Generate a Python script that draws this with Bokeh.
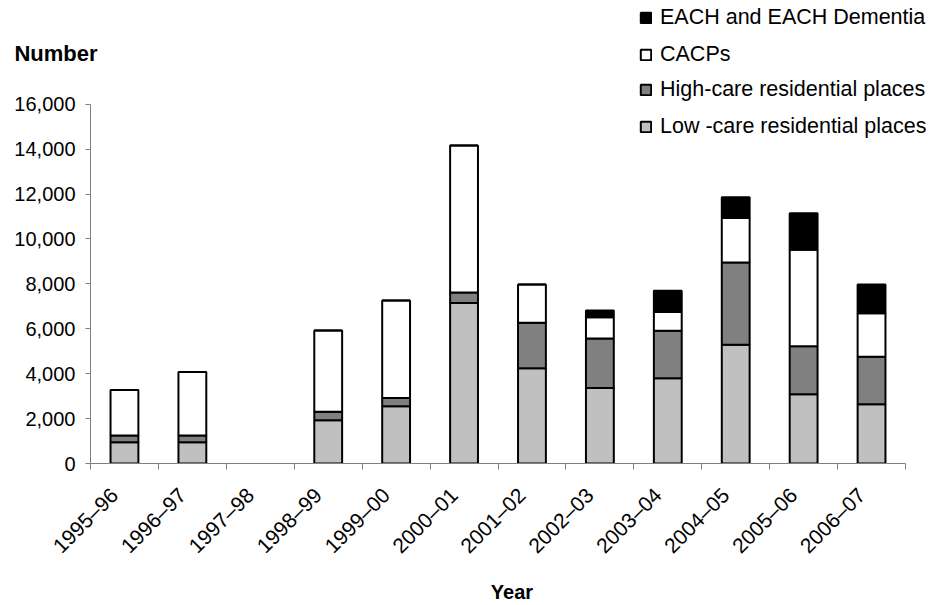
import math
from bokeh.plotting import figure
from bokeh.layouts import column
from bokeh.models import (Range1d, FixedTicker, NumeralTickFormatter, Legend, LegendItem,
                          ColumnDataSource)
from bokeh.embed import file_html
from bokeh.resources import INLINE

years = ["1995\u201396", "1996\u201397", "1997\u201398", "1998\u201399", "1999\u201300",
         "2000\u201301", "2001\u201302", "2002\u201303", "2003\u201304", "2004\u201305",
         "2005\u201306", "2006\u201307"]
low_care = [950, 950, 0, 1930, 2550, 7150, 4240, 3360, 3800, 5290, 3080, 2640]
high_care = [300, 300, 0, 380, 370, 470, 2030, 2210, 2110, 3660, 2140, 2120]
cacps = [2020, 2820, 0, 3610, 4340, 6540, 1700, 940, 840, 1980, 4300, 1930]
each = [0, 0, 0, 0, 0, 0, 0, 310, 950, 930, 1630, 1280]
series_names = ["Low -care residential places", "High-care residential places", "CACPs",
                "EACH and EACH Dementia"]
series_colors = ["#C0C0C0", "#808080", "#FFFFFF", "#000000"]
y_ticks = list(range(0, 16001, 2000))
y_title = "Number"
x_title = "Year"

FONT = "Liberation Sans"
W, H = 933, 605
TOP_H = 76            # strip above the main chart
LEFT, RIGHT_PAD, BOTTOM = 90, 28, 139
FRAME_TOP_PAD = 104 - TOP_H

n = len(years)
keep = [i for i in range(n) if low_care[i] + high_care[i] + cacps[i] + each[i] > 0]
src = ColumnDataSource(dict(
    x=[i + 0.5 for i in keep],
    low=[low_care[i] for i in keep],
    high=[high_care[i] for i in keep],
    cacp=[cacps[i] for i in keep],
    each=[each[i] for i in keep],
))
stack_cols = ["low", "high", "cacp", "each"]

# ---------------- main chart ----------------
main_h = H - TOP_H
frame_h = main_h - BOTTOM
frame_w = W - LEFT
y_end = y_ticks[-1] * frame_h / (frame_h - FRAME_TOP_PAD)
x_end = n * frame_w / (frame_w - RIGHT_PAD)

p = figure(width=W, height=main_h, x_range=Range1d(0, x_end), y_range=Range1d(0, y_end),
           output_backend="svg", toolbar_location=None,
           min_border_left=LEFT, min_border_top=0, min_border_right=0, min_border_bottom=BOTTOM)
p.outline_line_color = None
p.xgrid.visible = False
p.ygrid.visible = False

rs = p.vbar_stack(stack_cols, x="x", width=0.41, source=src,
                  fill_color=series_colors, line_color="black", line_width=2)

ya = p.yaxis[0]
ya.bounds = (y_ticks[0], y_ticks[-1])
ya.ticker = FixedTicker(ticks=y_ticks, minor_ticks=[])
ya.formatter = NumeralTickFormatter(format="0,0")
ya.major_tick_in = 0
ya.major_tick_out = 5
ya.minor_tick_in = 0
ya.minor_tick_out = 0
ya.axis_line_color = "#808080"
ya.major_tick_line_color = "#808080"
ya.major_label_text_font = FONT
ya.major_label_text_font_size = "20px"
ya.major_label_text_color = "black"
ya.major_label_standoff = 10

label_pos = [i + 0.35 for i in range(n)]
xa = p.xaxis[0]
xa.bounds = (0, n)
xa.ticker = FixedTicker(ticks=label_pos, minor_ticks=list(range(n + 1)))
xa.major_label_overrides = {x: y for x, y in zip(label_pos, years)}
xa.major_tick_in = 0
xa.major_tick_out = 0
xa.minor_tick_in = 0
xa.minor_tick_out = 6
xa.axis_line_color = "#808080"
xa.minor_tick_line_color = "#808080"
xa.major_label_orientation = math.pi / 4
xa.major_label_text_font = FONT
xa.major_label_text_font_size = "21px"
xa.major_label_text_color = "black"
xa.major_label_standoff = 22
xa.axis_label = x_title
xa.axis_label_text_font = FONT
xa.axis_label_text_font_size = "20px"
xa.axis_label_text_font_style = "bold"
xa.axis_label_text_color = "black"
xa.axis_label_standoff = 12

ROW, GAP = 24, 12
legend_kw = dict(border_line_color=None, background_fill_alpha=0, padding=0, margin=0,
                 glyph_width=13, glyph_height=13, label_height=ROW, spacing=GAP,
                 label_text_font=FONT, label_text_font_size="21.5px", label_standoff=8,
                 label_text_color="black", click_policy="none")
leg_h = 2 * ROW + GAP

# lower two legend entries sit inside the main frame (first row centred near y=91)
low_items = [LegendItem(label=series_names[i], renderers=[rs[i]]) for i in [1, 0]]
legend_low = Legend(items=low_items,
                    location=(639 - LEFT, frame_h - (94 - ROW / 2 - TOP_H) - leg_h),
                    **legend_kw)
p.add_layout(legend_low)

# ---------------- top strip: unit label and upper legend entries ----------------
t = figure(width=W, height=TOP_H, x_range=Range1d(0, x_end), y_range=Range1d(0, TOP_H),
           output_backend="svg", toolbar_location=None, x_axis_type=None,
           min_border_left=LEFT, min_border_right=0, min_border_top=0, min_border_bottom=0)
t.outline_line_color = None
t.xgrid.visible = False
t.ygrid.visible = False

# same bar series, hidden here: they only feed the legend keys of this strip
key_rs = t.vbar_stack(stack_cols, x="x", width=0.41, source=src,
                      fill_color=series_colors, line_color="black", line_width=2)
for r in key_rs:
    r.visible = False
top_items = [LegendItem(label=series_names[i], renderers=[key_rs[i]]) for i in [3, 2]]
legend_top = Legend(items=top_items,
                    location=(639 - LEFT, TOP_H - (19 - ROW / 2) - leg_h), **legend_kw)
t.add_layout(legend_top)

# unit label as the strip's left-axis label
num_y = TOP_H - 53
tya = t.yaxis[0]
tya.ticker = FixedTicker(ticks=[num_y], minor_ticks=[])
tya.major_label_overrides = {num_y: y_title}
tya.axis_line_color = None
tya.major_tick_line_color = None
tya.major_tick_out = 0
tya.major_tick_in = 0
tya.major_label_standoff = -7
tya.major_label_text_font = FONT
tya.major_label_text_font_size = "22px"
tya.major_label_text_font_style = "bold"
tya.major_label_text_color = "black"

layout = column(t, p, spacing=0)

open("out.html", "w").write(file_html(layout, INLINE))
